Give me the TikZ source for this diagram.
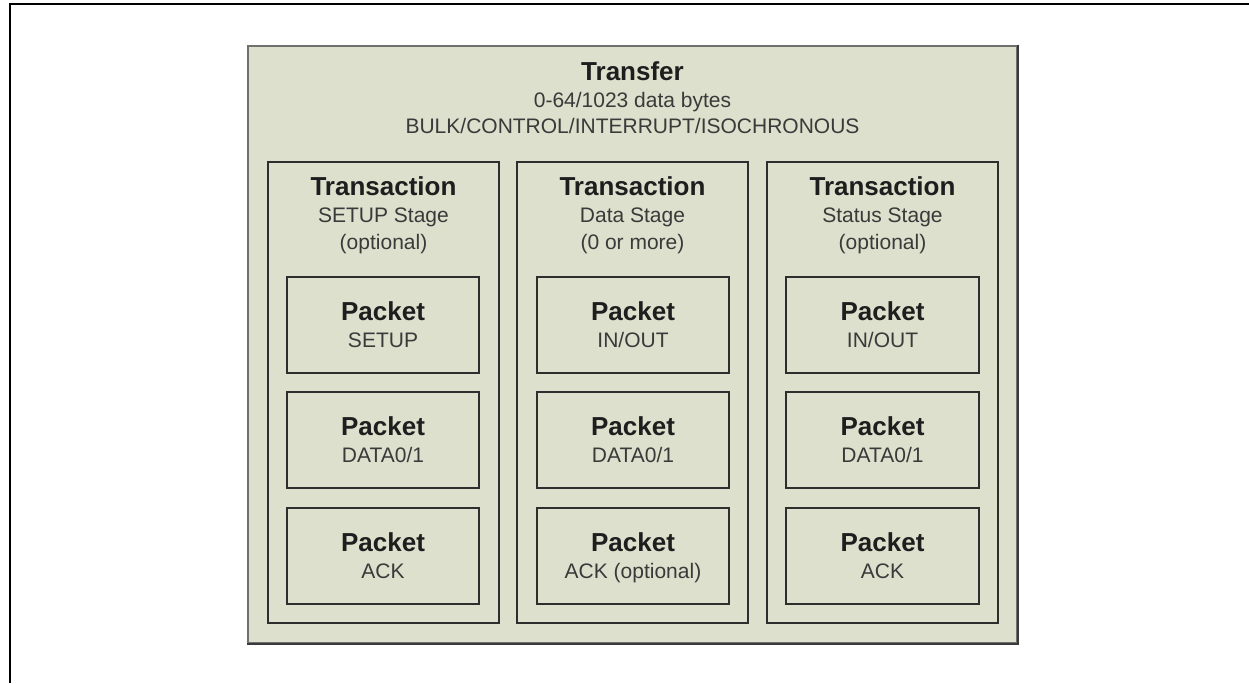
\documentclass[tikz,border=0pt]{standalone}
\usepackage{fontspec}
\setmainfont{Liberation Sans}
\usetikzlibrary{fit}
\definecolor{boxfill}{HTML}{DCE0CC}
\definecolor{edge}{HTML}{2E2E2E}
\definecolor{tedge}{HTML}{707070}
\definecolor{tdark}{HTML}{3A3A3A}
\definecolor{titlecol}{HTML}{1E1E1E}
\definecolor{subcol}{HTML}{3A3A3A}
\begin{document}
\begin{tikzpicture}[x=0.75pt,y=-0.75pt,
  frameline/.style={draw=black, line width=1.3pt},
  transferbox/.style={draw=tedge, fill=boxfill, line width=1.6pt, inner sep=0pt},
  transferedge/.style={draw=tdark, line width=2pt},
  stagebox/.style={draw=edge, fill=boxfill, line width=1.4pt, inner sep=0pt},
  packetbox/.style={draw=edge, fill=boxfill, line width=1.5pt, inner sep=0pt},
  titletext/.style={anchor=base, inner sep=0pt, text=titlecol, font=\fontsize{19.5}{23}\bfseries},
  subtext/.style={anchor=base, inner sep=0pt, text=subcol, font=\fontsize{15.75}{19}\selectfont}]
\useasboundingbox (0,0) rectangle (1249,683);
% outer frame (only left and top visible)
\coordinate (fl) at (10,683);
\coordinate (fc) at (10,4);
\coordinate (fr) at (1249,4);
\draw[frameline] (fl) -- (fc) -- (fr);
% transfer box
\node[transferbox, fit={(248,46)(1017,643)}] (tr) {};
\draw[transferedge] (tr.north east) -- (tr.south east) -- (tr.south west);
\node[titletext] (trt) at (632.5,80) {Transfer};
\node[subtext] (trs1) at (632.5,107) {0-64/1023 data bytes};
\node[subtext] (trs2) at (632.5,133) {BULK/CONTROL/INTERRUPT/ISOCHRONOUS};
% transactions
\node[stagebox, fit={(268,162)(499,623)}] (ta) {};
\node[stagebox, fit={(517,162)(748,623)}] (tb) {};
\node[stagebox, fit={(767,162)(998,623)}] (tc) {};
\node[titletext] (tat) at (383.5,195) {Transaction};
\node[subtext] (tas1) at (383.5,222) {SETUP Stage};
\node[subtext] (tas2) at (383.5,249) {(optional)};
\node[titletext] (tbt) at (632.5,195) {Transaction};
\node[subtext] (tbs1) at (632.5,222) {Data Stage};
\node[subtext] (tbs2) at (632.5,249) {(0 or more)};
\node[titletext] (tct) at (882.5,195) {Transaction};
\node[subtext] (tcs1) at (882.5,222) {Status Stage};
\node[subtext] (tcs2) at (882.5,249) {(optional)};
% packets column A
\node[packetbox, fit={(287,277)(479,373)}] (pa1) {};
\node[packetbox, fit={(287,392)(479,488)}] (pa2) {};
\node[packetbox, fit={(287,508)(479,604)}] (pa3) {};
% packets column B
\node[packetbox, fit={(537,277)(729,373)}] (pb1) {};
\node[packetbox, fit={(537,392)(729,488)}] (pb2) {};
\node[packetbox, fit={(537,508)(729,604)}] (pb3) {};
% packets column C
\node[packetbox, fit={(786,277)(979,373)}] (pc1) {};
\node[packetbox, fit={(786,392)(979,488)}] (pc2) {};
\node[packetbox, fit={(786,508)(979,604)}] (pc3) {};
% packet texts
\node[titletext] (pa1t) at (383,320) {Packet};
\node[subtext] (pa1s) at (383,347) {SETUP};
\node[titletext] (pa2t) at (383,435) {Packet};
\node[subtext] (pa2s) at (383,462) {DATA0/1};
\node[titletext] (pa3t) at (383,551) {Packet};
\node[subtext] (pa3s) at (383,578) {ACK};
\node[titletext] (pb1t) at (633,320) {Packet};
\node[subtext] (pb1s) at (633,347) {IN/OUT};
\node[titletext] (pb2t) at (633,435) {Packet};
\node[subtext] (pb2s) at (633,462) {DATA0/1};
\node[titletext] (pb3t) at (633,551) {Packet};
\node[subtext] (pb3s) at (633,578) {ACK (optional)};
\node[titletext] (pc1t) at (882.5,320) {Packet};
\node[subtext] (pc1s) at (882.5,347) {IN/OUT};
\node[titletext] (pc2t) at (882.5,435) {Packet};
\node[subtext] (pc2s) at (882.5,462) {DATA0/1};
\node[titletext] (pc3t) at (882.5,551) {Packet};
\node[subtext] (pc3s) at (882.5,578) {ACK};
\end{tikzpicture}
\end{document}
